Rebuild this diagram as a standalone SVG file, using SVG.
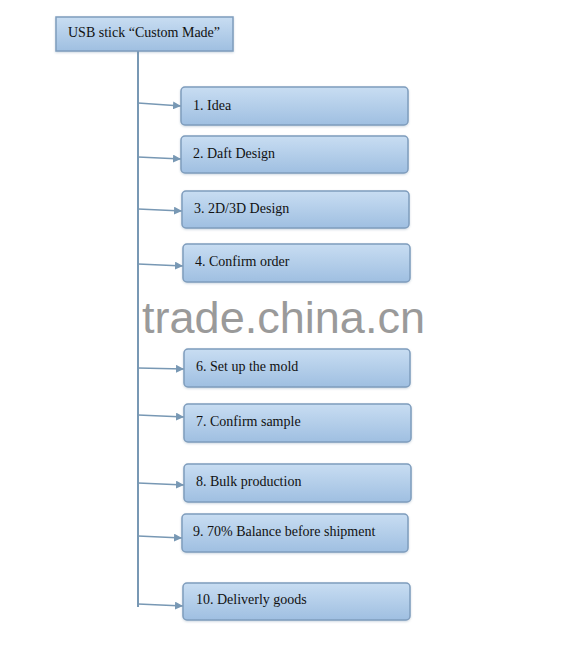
<svg xmlns="http://www.w3.org/2000/svg" width="565" height="663" viewBox="0 0 565 663">
<defs>
<linearGradient id="g" x1="0" y1="0" x2="0" y2="1">
<stop offset="0" stop-color="#c8ddf2"/>
<stop offset="1" stop-color="#9fbfe1"/>
</linearGradient>
<marker id="ah" viewBox="0 0 10 10" refX="10" refY="5" markerWidth="5" markerHeight="5" orient="auto" markerUnits="strokeWidth">
<path d="M0,0 L10,5 L0,10 z" fill="#7898b4"/>
</marker>
<filter id="sh" x="-5%" y="-10%" width="110%" height="130%">
<feDropShadow dx="0" dy="1" stdDeviation="0.8" flood-color="#6f8aa6" flood-opacity="0.35"/>
</filter>
</defs>
<style>
.box{fill:url(#g);stroke:#7f9dbd;stroke-width:1.5;filter:url(#sh)}
.t{font-family:"Liberation Serif","Times New Roman",serif;font-size:14px;fill:#111}
.c{stroke:#7898b4;stroke-width:2;fill:none}
.a{stroke:#7898b4;stroke-width:1.6;fill:none;marker-end:url(#ah)}
.wm{font-family:"Liberation Sans",Arial,sans-serif;font-size:45px;fill:#9a9a9a}
</style>
<rect width="565" height="663" fill="#ffffff"/>
<g id="connectors">
<line class="c" x1="138" y1="51" x2="138" y2="607"/>
<line class="a" x1="138" y1="103" x2="181" y2="106"/>
<line class="a" x1="138" y1="157" x2="181" y2="159"/>
<line class="a" x1="138" y1="209" x2="182" y2="211"/>
<line class="a" x1="138" y1="264" x2="183" y2="266"/>
<line class="a" x1="138" y1="368" x2="184" y2="369"/>
<line class="a" x1="138" y1="415" x2="184" y2="417"/>
<line class="a" x1="138" y1="483" x2="184" y2="485"/>
<line class="a" x1="138" y1="536" x2="182" y2="538"/>
<line class="a" x1="138" y1="604" x2="183" y2="606"/>
</g>
<g id="root">
<rect class="box" x="56" y="17" width="177" height="34"/>
<text class="t" x="68" y="37">USB stick “Custom Made”</text>
</g>
<g id="n1">
<rect class="box" x="181" y="87" width="227" height="38" rx="4"/>
<text class="t" x="193" y="110">1. Idea</text>
</g>
<g id="n2">
<rect class="box" x="181" y="136" width="227" height="37" rx="4"/>
<text class="t" x="193" y="158">2. Daft Design</text>
</g>
<g id="n3">
<rect class="box" x="182" y="191" width="227" height="37" rx="4"/>
<text class="t" x="194" y="213">3. 2D/3D Design</text>
</g>
<g id="n4">
<rect class="box" x="183" y="244" width="227" height="38" rx="4"/>
<text class="t" x="195" y="266">4. Confirm order</text>
</g>
<g id="n6">
<rect class="box" x="184" y="349" width="226" height="38" rx="4"/>
<text class="t" x="196" y="371">6. Set up the mold</text>
</g>
<g id="n7">
<rect class="box" x="184" y="404" width="227" height="38" rx="4"/>
<text class="t" x="196" y="426">7. Confirm sample</text>
</g>
<g id="n8">
<rect class="box" x="184" y="464" width="227" height="38" rx="4"/>
<text class="t" x="196" y="486">8. Bulk production</text>
</g>
<g id="n9">
<rect class="box" x="182" y="514" width="226" height="38" rx="4"/>
<text class="t" x="193" y="536">9. 70% Balance before shipment</text>
</g>
<g id="n10">
<rect class="box" x="183" y="583" width="227" height="37" rx="4"/>
<text class="t" x="196" y="604">10. Deliverly goods</text>
</g>
<text class="wm" x="142" y="333" textLength="283" lengthAdjust="spacingAndGlyphs">trade.china.cn</text>
</svg>
